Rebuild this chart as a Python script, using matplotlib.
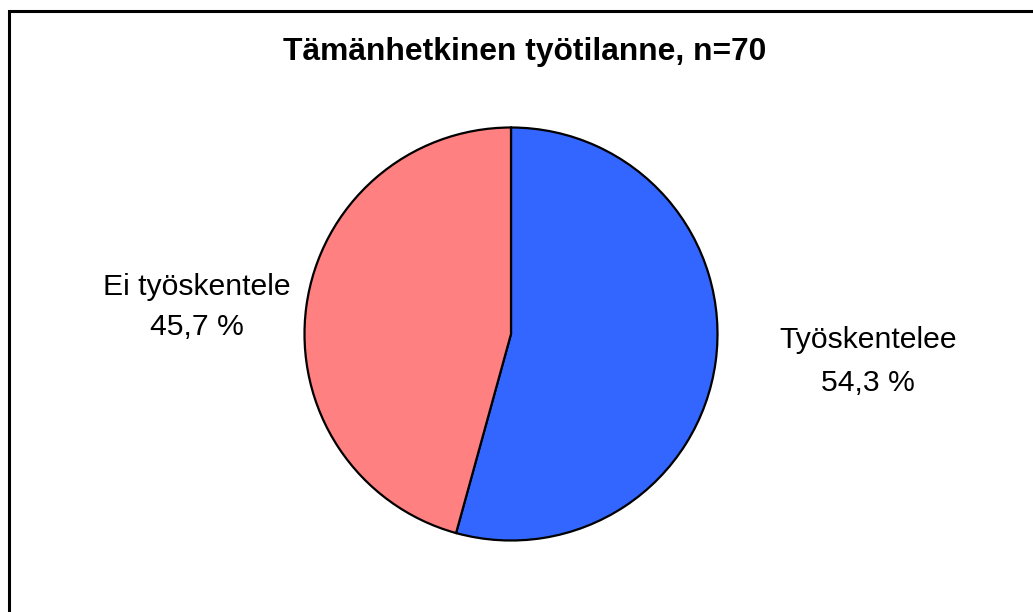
import matplotlib
matplotlib.use("Agg")
import matplotlib.pyplot as plt
from matplotlib.patches import Rectangle

categories = ["Työskentelee", "Ei työskentele"]
values = [38, 32]
percent_labels = ["54,3 %", "45,7 %"]
colors = ["#3366FF", "#FF8080"]
title = "Tämänhetkinen työtilanne, n=70"

plt.rcParams['font.family'] = ['Liberation Sans', 'DejaVu Sans']

W, H = 1033, 612
fig = plt.figure(figsize=(W / 100, H / 100), dpi=100)
ax = fig.add_axes([0, 0, 1, 1])
ax.set_xlim(0, W)
ax.set_ylim(0, H)
ax.set_aspect('equal')
ax.axis('off')

# outer frame (extends beyond right and bottom edges)
ax.add_patch(Rectangle((8.5, -20), W + 40, H - 10.5 + 20, fill=False,
                       edgecolor='black', linewidth=2.2, clip_on=False))

ax.pie(values, colors=colors, startangle=90, counterclock=False,
       center=(511, H - 334), radius=206.5,
       wedgeprops=dict(edgecolor='black', linewidth=1.6))
ax.set_xlim(0, W)
ax.set_ylim(0, H)

ax.text(525, H - 52, title, ha='center', va='center', fontsize=22.9, fontweight='bold')

label_pos = [(868, H - 340, H - 383), (197, H - 287, H - 327)]
for (x, y1, y2), cat, pct in zip(label_pos, categories, percent_labels):
    ax.text(x, y1, cat, ha='center', va='center', fontsize=21.7)
    ax.text(x, y2, pct, ha='center', va='center', fontsize=21.7)

fig.savefig("out.png", dpi=100)
